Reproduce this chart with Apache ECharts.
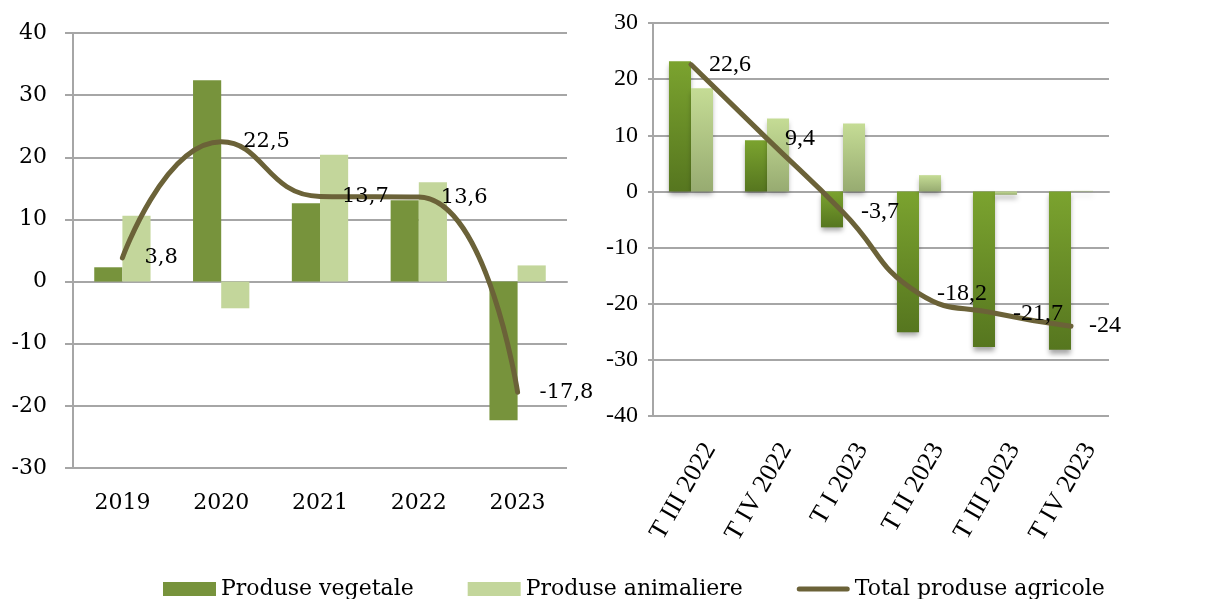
<!DOCTYPE html>
<html>
<head>
<meta charset="utf-8">
<script src="https://cdn.jsdelivr.net/npm/echarts@6/dist/echarts.min.js"></script>
<style>
  html, body { margin: 0; padding: 0; background: #fff; }
  #chart { width: 1230px; height: 599px; }
</style>
</head>
<body>
<div id="chart"></div>
<script>
// annual data (left panel)
const years = ["2019", "2020", "2021", "2022", "2023"];
const yearVegetale = [2.3, 32.4, 12.6, 13.1, -22.3];
const yearAnimaliere = [10.6, -4.3, 20.4, 16.0, 2.6];
const yearTotal = [3.8, 22.5, 13.7, 13.6, -17.8];

// quarterly data (right panel)
const quarters = ["T III 2022", "T IV 2022", "T I 2023", "T II 2023", "T III 2023", "T IV 2023"];
const quarterVegetale = [23.2, 9.1, -6.4, -25.1, -27.7, -28.2];
const quarterAnimaliere = [18.4, 13.0, 12.1, 2.9, -0.6, 0.1];
const quarterTotal = [22.6, 9.4, -3.7, -18.2, -21.7, -24];

const leftTicks = { min: -30, max: 40, interval: 10 };
const rightTicks = { min: -40, max: 30, interval: 10 };

document.addEventListener("DOMContentLoaded", function () {
  const chart = echarts.init(document.getElementById("chart"));

  const gridColor = "#a6a6a6";
  const vegColor = "#77933c";
  const animColor = "#c3d69b";
  const lineColor = "#6b6238";
  const wideSerif = "DejaVu Serif";
  const timesSerif = "Liberation Serif";
  const comma = (p) => String(p.value).replace(".", ",");
  // thick rounded stroke for the legend, padded to the 53x14 icon box
  const lineIcon =
    "path://M0,0M0,14M2.5,4.5L50.5,4.5A2.5,2.5,0,0,1,50.5,9.5L2.5,9.5A2.5,2.5,0,0,1,2.5,4.5Z";

  const zeroAxis = (grid, data) => ({
    type: "category",
    gridIndex: grid,
    data: data,
    position: "top",
    axisLine: { onZero: true, lineStyle: { color: gridColor, width: 2 } },
    axisTick: { inside: true, length: 8, lineStyle: { color: gridColor, width: 2 } },
    axisLabel: { show: false },
    splitLine: { show: false },
  });

  const totalLine = (xIdx, yIdx, font, size, dist, values) => ({
    name: "Total produse agricole",
    type: "line",
    xAxisIndex: xIdx,
    yAxisIndex: yIdx,
    smooth: 0.5,
    symbol: "circle",
    symbolSize: 0,
    z: 5,
    lineStyle: { width: 5, color: lineColor, cap: "round" },
    itemStyle: { color: lineColor },
    label: {
      show: true,
      position: "right",
      distance: dist,
      fontFamily: font,
      fontSize: size,
      color: "#000",
      formatter: comma,
    },
    data: values,
  });

  const option = {
    animation: false,
    legend: {
      data: [
        { name: "Produse vegetale", icon: "rect" },
        { name: "Produse animaliere", icon: "rect" },
        {
          name: "Total produse agricole",
          icon: lineIcon,
          itemStyle: { color: lineColor, borderWidth: 0 },
        },
      ],
      left: 158,
      top: 573,
      itemWidth: 53,
      itemHeight: 14,
      itemGap: 54,
      textStyle: { fontFamily: wideSerif, fontSize: 22, color: "#000" },
    },
    grid: [
      { left: 73, top: 33, width: 494, height: 435 },
      { left: 653, top: 23, width: 456, height: 393 },
    ],
    xAxis: [
      zeroAxis(0, years),
      {
        type: "category",
        gridIndex: 0,
        data: years,
        position: "bottom",
        axisLine: { show: false, onZero: false },
        axisTick: { show: false },
        axisLabel: { fontFamily: wideSerif, fontSize: 22, color: "#000", margin: 24 },
      },
      zeroAxis(1, quarters),
      {
        type: "category",
        gridIndex: 1,
        data: quarters,
        position: "bottom",
        axisLine: { show: false, onZero: false },
        axisTick: { show: false },
        axisLabel: {
          fontFamily: timesSerif,
          fontSize: 26,
          color: "#000",
          rotate: 60,
          margin: 62,
          padding: [0, -38, 0, 0],
          interval: 0,
        },
      },
    ],
    yAxis: [
      {
        type: "value",
        gridIndex: 0,
        min: leftTicks.min,
        max: leftTicks.max,
        interval: leftTicks.interval,
        axisLine: { show: true, lineStyle: { color: gridColor, width: 2 } },
        axisTick: { show: true, length: 8, lineStyle: { color: gridColor, width: 2 } },
        splitLine: { lineStyle: { color: gridColor, width: 2 } },
        axisLabel: { fontFamily: wideSerif, fontSize: 22, color: "#000", margin: 26 },
      },
      {
        type: "value",
        gridIndex: 1,
        min: rightTicks.min,
        max: rightTicks.max,
        interval: rightTicks.interval,
        axisLine: { show: true, lineStyle: { color: gridColor, width: 2 } },
        axisTick: { show: true, length: 5, lineStyle: { color: gridColor, width: 2 } },
        splitLine: { lineStyle: { color: gridColor, width: 2 } },
        axisLabel: { fontFamily: timesSerif, fontSize: 24, color: "#000", margin: 15 },
      },
    ],
    series: [
      {
        name: "Produse vegetale",
        type: "bar",
        xAxisIndex: 1,
        yAxisIndex: 0,
        barGap: "0%",
        barCategoryGap: "43%",
        itemStyle: { color: vegColor },
        data: yearVegetale,
      },
      {
        name: "Produse animaliere",
        type: "bar",
        xAxisIndex: 1,
        yAxisIndex: 0,
        barGap: "0%",
        barCategoryGap: "43%",
        itemStyle: { color: animColor },
        data: yearAnimaliere,
      },
      totalLine(1, 0, wideSerif, 21, 22, yearTotal),
      {
        name: "Produse vegetale",
        type: "bar",
        xAxisIndex: 3,
        yAxisIndex: 1,
        barGap: "0%",
        barCategoryGap: "42%",
        itemStyle: {
          color: new echarts.graphic.LinearGradient(0, 0, 0, 1, [
            { offset: 0, color: "#7ba32f" },
            { offset: 1, color: "#56761f" },
          ]),
          shadowColor: "rgba(0, 0, 0, 0.35)",
          shadowBlur: 5,
          shadowOffsetY: 4,
        },
        data: quarterVegetale,
      },
      {
        name: "Produse animaliere",
        type: "bar",
        xAxisIndex: 3,
        yAxisIndex: 1,
        barGap: "0%",
        barCategoryGap: "42%",
        itemStyle: {
          color: new echarts.graphic.LinearGradient(0, 0, 0, 1, [
            { offset: 0, color: "#c5dc95" },
            { offset: 1, color: "#97ab71" },
          ]),
          shadowColor: "rgba(0, 0, 0, 0.3)",
          shadowBlur: 5,
          shadowOffsetY: 4,
        },
        data: quarterAnimaliere,
      },
      totalLine(3, 1, timesSerif, 24, 18, quarterTotal),
    ],
  };
  chart.setOption(option);
});
</script>
</body>
</html>
